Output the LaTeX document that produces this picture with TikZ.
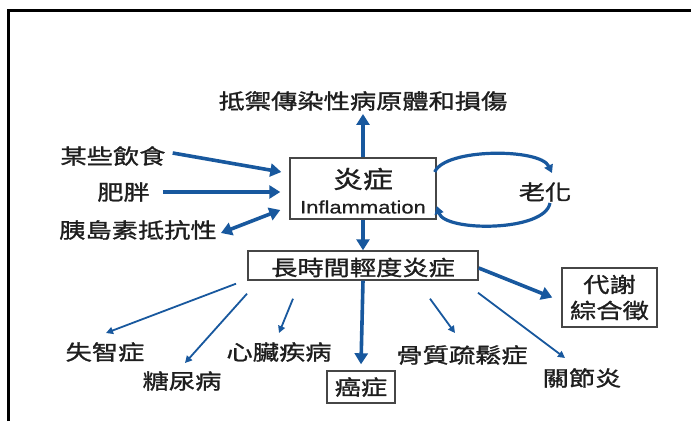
\documentclass[tikz,border=0pt]{standalone}
\usepackage{fontspec}
\newfontfamily\cjk[FakeStretch=1.25,FakeBold=1.2]{Noto Sans CJK TC}
\newfontfamily\lat[FakeStretch=1.22,FakeBold=0.6]{Liberation Sans}
\usetikzlibrary{arrows.meta,calc}
\definecolor{arrowblue}{RGB}{24,88,158}
\definecolor{txt}{RGB}{30,30,30}
\definecolor{boxline}{RGB}{70,70,70}
\tikzset{
  lbl/.style={inner sep=0pt, text=txt, font=\cjk\fontsize{21}{26}\selectfont, align=center},
  boxnode/.style={draw=boxline, line width=1.4pt, fill=white, inner sep=0pt, text=txt,
    font=\cjk\fontsize{21}{26}\selectfont, align=center},
  thk/.style={draw=arrowblue, line width=3.6pt, -{Triangle[length=11pt,width=13pt]}},
  thn/.style={draw=arrowblue, line width=1.8pt, -{Triangle[length=7pt,width=7pt]}},
  cyc/.style={draw=arrowblue, line width=3.2pt, -{Triangle[length=8pt,width=9pt]}},
  dbl/.style={draw=arrowblue, line width=3.6pt, {Triangle[length=11pt,width=13pt]}-{Triangle[length=11pt,width=13pt]}},
}
\begin{document}
\begin{tikzpicture}[x=1pt,y=-1pt]
\useasboundingbox (0,0) rectangle (691,421);
\fill[white] (0,0) rectangle (691,421);
% frame
\draw[line width=3pt, black] (8,421) -- (8,10.5) -- (691,10.5);

% boxes
\node[boxnode, minimum width=146pt, minimum height=61pt] (inflam) at (363,188.5) {};
\node[lbl, font=\cjk\fontsize{24}{28}\selectfont] (inflamzh) at (363,179) {炎症};
\node[lbl, font=\lat\fontsize{18}{20}\selectfont] (inflamen) at (363,207) {Inflammation};

\node[boxnode, minimum width=230pt, minimum height=29pt] (chronic) at (363,265.5) {};
\node[lbl] (chronictxt) at (363,267.5) {長時間輕度炎症};

\node[boxnode, minimum width=95pt, minimum height=59pt] (metab) at (609.5,297.5) {代謝\\綜合徵};
\node[boxnode, minimum width=68pt, minimum height=32pt] (cancer) at (361,387) {癌症};

% labels
\node[lbl] (top) at (363,101) {抵禦傳染性病原體和損傷};
\node[lbl] (diet) at (113,156) {某些飲食};
\node[lbl] (obese) at (123.5,192) {肥胖};
\node[lbl] (insulin) at (138,230) {胰島素抵抗性};
\node[lbl] (aging) at (545,192) {老化};
\node[lbl] (dementia) at (105,352) {失智症};
\node[lbl] (diabetes) at (182,381) {糖尿病};
\node[lbl] (heart) at (279,352) {心臟疾病};
\node[lbl] (osteo) at (462,355) {骨質疏鬆症};
\node[lbl] (arthritis) at (582,378) {關節炎};

% thick arrows
\draw[thk] (inflam.north) -- ($(top.south)+(0,3)$);
\draw[thk] (inflam.south) -- (chronic.north);
\draw[thk] (chronic.south) -- ($(cancer.north)+(0,-6)$);
\draw[thk] ($(chronic.east)+(0,2.5)$) -- ($(metab.west)+(-9,0)$);
\draw[thk] ($(diet.east)+(7,-3)$) -- ($(inflam.west)+(-8,-16.5)$);
\draw[thk] ($(obese.east)+(13,0)$) -- ($(inflam.west)+(-9,3.5)$);
\draw[dbl] ($(insulin.east)+(4,3)$) -- ($(inflam.west)+(-9,21.5)$);

% cycle with aging
\draw[cyc] ($(inflam.east)+(-2,-16.5)$) .. controls (445,148) and (540,148) .. ($(aging)+(7,-19)$);
\draw[cyc] ($(aging)+(5,11)$) .. controls (545,232) and (445,232) .. ($(inflam.east)+(0,17.5)$);

% thin arrows
\draw[thn] ($(chronic.south)+(-127,3)$) -- ($(dementia)+(1,-19)$);
\draw[thn] ($(chronic.south)+(-116,13)$) -- ($(diabetes)+(3,-18)$);
\draw[thn] ($(chronic.south)+(-70,18)$) -- ($(heart)+(0,-19)$);
\draw[thn] ($(chronic.south)+(67,18)$) -- ($(osteo)+(-7,-22)$);
\draw[thn] ($(chronic.south)+(115,12)$) -- ($(arthritis)+(-17,-20)$);
\end{tikzpicture}
\end{document}
